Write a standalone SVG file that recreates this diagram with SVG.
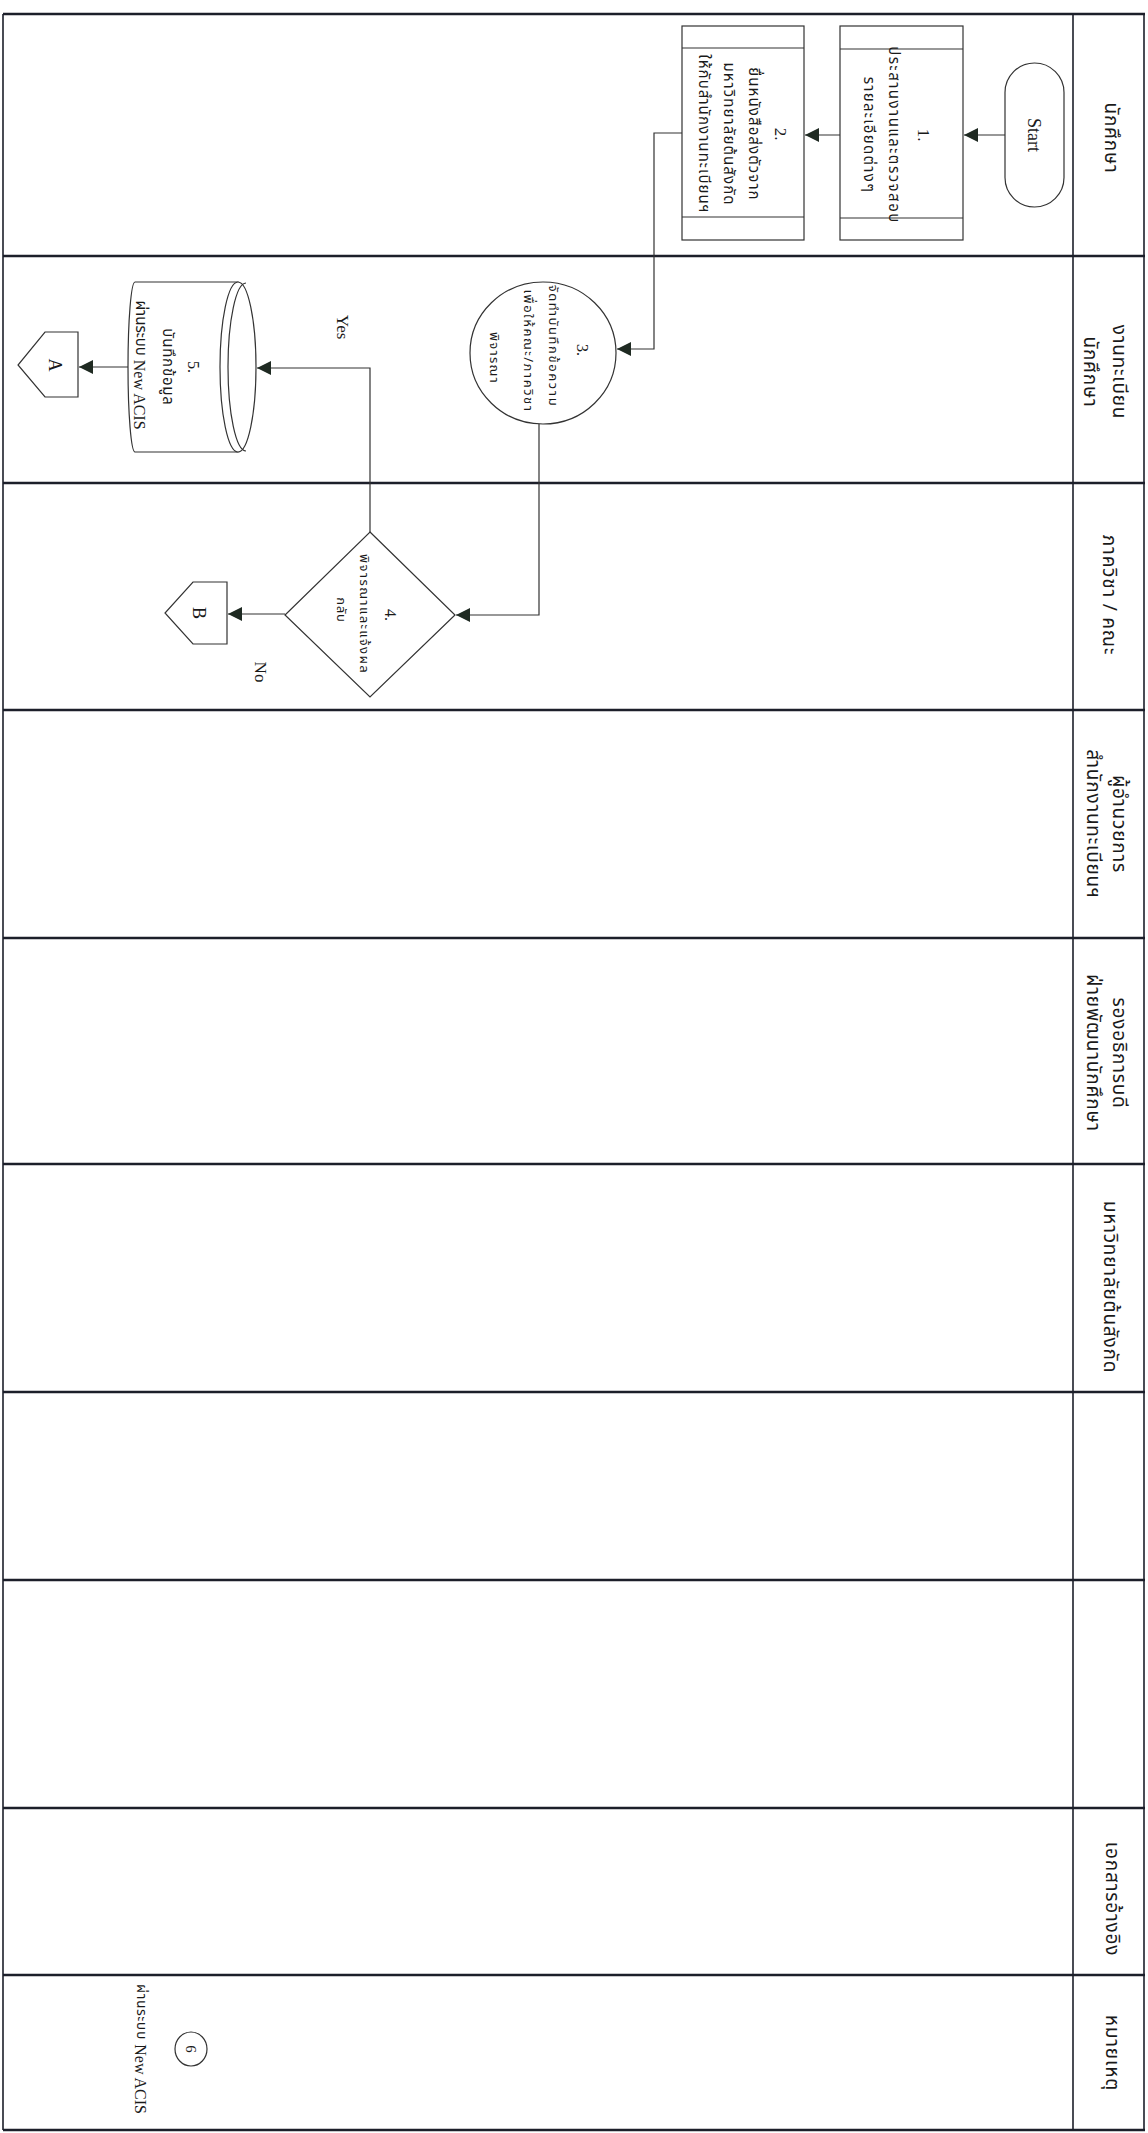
<svg xmlns="http://www.w3.org/2000/svg" width="1148" height="2133" viewBox="0 0 1148 2133">
<style>
.lane{stroke:#1c1f2a;stroke-width:2.5;fill:none}
.vline{stroke:#1c1f2a;stroke-width:1.6;fill:none}
.shape{fill:#fff;stroke:#333;stroke-width:1.2}
.conn{fill:none;stroke:#333;stroke-width:1.2}
.th{font-family:"Noto Sans Thai","Noto Sans","DejaVu Sans",sans-serif;fill:#1a1a1a}
.hd{font-size:19px;letter-spacing:0.8px}
.nt{font-size:15px}
.ns{font-size:13px}
.lat{font-family:"Liberation Serif","Times New Roman",serif;fill:#1a1a1a;letter-spacing:0}
</style>
<defs>
<marker id="ah" markerUnits="userSpaceOnUse" markerWidth="15" markerHeight="15" refX="14" refY="7" orient="auto">
<path d="M0,0 L14,7 L0,14 z" fill="#1f2a22"/>
</marker>
</defs>
<rect width="1148" height="2133" fill="#fff"/>
<g id="grid">
<line class="lane" x1="3" y1="14" x2="1145" y2="14"/>
<line class="lane" x1="3" y1="256" x2="1145" y2="256"/>
<line class="lane" x1="3" y1="483" x2="1145" y2="483"/>
<line class="lane" x1="3" y1="710" x2="1145" y2="710"/>
<line class="lane" x1="3" y1="938" x2="1145" y2="938"/>
<line class="lane" x1="3" y1="1164" x2="1145" y2="1164"/>
<line class="lane" x1="3" y1="1392" x2="1145" y2="1392"/>
<line class="lane" x1="3" y1="1580" x2="1145" y2="1580"/>
<line class="lane" x1="3" y1="1808" x2="1145" y2="1808"/>
<line class="lane" x1="3" y1="1975" x2="1145" y2="1975"/>
<line class="lane" x1="3" y1="2130" x2="1145" y2="2130"/>
<line class="vline" x1="3" y1="14" x2="3" y2="2130"/>
<line class="vline" x1="1073" y1="14" x2="1073" y2="2130"/>
<line class="vline" x1="1144" y1="14" x2="1144" y2="2130"/>
</g>
<g id="headers" class="th hd" text-anchor="middle" dominant-baseline="central">
<g id="h1"><text x="1110" y="138" transform="rotate(90 1110 138)">นักศึกษา</text></g>
<g id="h2"><text x="1118" y="372" transform="rotate(90 1118 372)">งานทะเบียน</text><text x="1089" y="372" transform="rotate(90 1089 372)">นักศึกษา</text></g>
<g id="h3"><text x="1108" y="595" transform="rotate(90 1108 595)">ภาควิชา / คณะ</text></g>
<g id="h4"><text x="1118" y="824" transform="rotate(90 1118 824)">ผู้อำนวยการ</text><text x="1092" y="824" transform="rotate(90 1092 824)">สำนักงานทะเบียนฯ</text></g>
<g id="h5"><text x="1118" y="1053" transform="rotate(90 1118 1053)">รองอธิการบดี</text><text x="1092" y="1053" transform="rotate(90 1092 1053)">ฝ่ายพัฒนานักศึกษา</text></g>
<g id="h6"><text x="1109" y="1287" transform="rotate(90 1109 1287)">มหาวิทยาลัยต้นสังกัด</text></g>
<g id="h9"><text x="1111" y="1899" transform="rotate(90 1111 1899)">เอกสารอ้างอิง</text></g>
<g id="h10"><text x="1111" y="2053" transform="rotate(90 1111 2053)">หมายเหตุ</text></g>
</g>
<g id="connectors">
<path class="conn" d="M1005,135 L964,135" marker-end="url(#ah)"/>
<path class="conn" d="M840,135 L805,135" marker-end="url(#ah)"/>
<path class="conn" d="M682,133 L654,133 L654,349 L617,349" marker-end="url(#ah)"/>
<path class="conn" d="M539,424 L539,615 L456,615" marker-end="url(#ah)"/>
<path class="conn" d="M370,532 L370,368 L257,368" marker-end="url(#ah)"/>
<path class="conn" d="M285,614 L228,614" marker-end="url(#ah)"/>
<path class="conn" d="M128,367 L79,367" marker-end="url(#ah)"/>
<text class="lat" font-size="17" x="342" y="327" text-anchor="middle" dominant-baseline="central" transform="rotate(90 342 327)">Yes</text>
<text class="lat" font-size="17" x="260" y="672" text-anchor="middle" dominant-baseline="central" transform="rotate(90 260 672)">No</text>
</g>
<g id="start">
<rect class="shape" x="1005" y="63" width="59" height="144" rx="29.5"/>
<text class="lat" font-size="18" x="1034" y="135" text-anchor="middle" dominant-baseline="central" transform="rotate(90 1034 135)">Start</text>
</g>
<g id="n1">
<rect class="shape" x="840" y="26" width="123" height="214"/>
<line class="conn" x1="840" y1="49" x2="963" y2="49"/>
<line class="conn" x1="840" y1="218" x2="963" y2="218"/>
<g text-anchor="middle" dominant-baseline="central">
<text class="lat" font-size="17" x="923" y="135" transform="rotate(90 923 135)">1.</text>
<text class="th nt" letter-spacing="1.5" x="893" y="135" transform="rotate(90 893 135)">ประสานงานและตรวจสอบ</text>
<text class="th nt" letter-spacing="1.3" x="868" y="135" transform="rotate(90 868 135)">รายละเอียดต่างๆ</text>
</g>
</g>
<g id="n2">
<rect class="shape" x="682" y="26" width="122" height="214"/>
<line class="conn" x1="682" y1="48" x2="804" y2="48"/>
<line class="conn" x1="682" y1="217" x2="804" y2="217"/>
<g text-anchor="middle" dominant-baseline="central">
<text class="lat" font-size="17" x="780" y="134" transform="rotate(90 780 134)">2.</text>
<text class="th nt" letter-spacing="1.1" x="753" y="134" transform="rotate(90 753 134)">ยื่นหนังสือส่งตัวจาก</text>
<text class="th nt" letter-spacing="1.1" x="728" y="134" transform="rotate(90 728 134)">มหาวิทยาลัยต้นสังกัด</text>
<text class="th nt" letter-spacing="1.1" x="703" y="134" transform="rotate(90 703 134)">ให้กับสำนักงานทะเบียนฯ</text>
</g>
</g>
<g id="n3">
<ellipse class="shape" cx="543" cy="353" rx="73" ry="71"/>
<g text-anchor="middle" dominant-baseline="central">
<text class="lat" font-size="16" x="582" y="350" transform="rotate(90 582 350)">3.</text>
<text class="th ns" letter-spacing="1.6" x="553" y="346" transform="rotate(90 553 346)">จัดทำบันทึกข้อความ</text>
<text class="th ns" letter-spacing="1.5" x="528" y="351" transform="rotate(90 528 351)">เพื่อให้คณะ/ภาควิชา</text>
<text class="th ns" letter-spacing="1.2" x="494" y="358" transform="rotate(90 494 358)">พิจารณา</text>
</g>
</g>
<g id="n4">
<polygon class="shape" points="370,532 455,615 370,697 285,615"/>
<g text-anchor="middle" dominant-baseline="central">
<text class="lat" font-size="16" x="390" y="615" transform="rotate(90 390 615)">4.</text>
<text class="th ns" letter-spacing="1.4" x="364" y="614" transform="rotate(90 364 614)">พิจารณาและแจ้งผล</text>
<text class="th ns" letter-spacing="0.8" x="341" y="610" transform="rotate(90 341 610)">กลับ</text>
</g>
</g>
<g id="n5">
<path class="shape" d="M238,282 L135,282 A7,85 0 0 0 135,452 L238,452 Z"/>
<ellipse class="shape" cx="238" cy="367" rx="18" ry="85"/>
<path class="conn" d="M246,283 A18,84 0 0 0 246,451"/>
<g text-anchor="middle" dominant-baseline="central">
<text class="lat" font-size="16" x="193" y="367" transform="rotate(90 193 367)">5.</text>
<text class="th nt" letter-spacing="0.8" x="167" y="367" transform="rotate(90 167 367)">บันทึกข้อมูล</text>
<text class="th nt" x="140" y="365" transform="rotate(90 140 365)">ผ่านระบบ <tspan class="lat" font-size="16">New ACIS</tspan></text>
</g>
</g>
<g id="connA">
<polygon class="shape" points="78,332 78,397 45,397 18,365 45,332"/>
<text class="lat" font-size="18" x="55" y="365" text-anchor="middle" dominant-baseline="central" transform="rotate(90 55 365)">A</text>
</g>
<g id="connB">
<polygon class="shape" points="227,582 227,644 193,644 165,613 193,582"/>
<text class="lat" font-size="18" x="199" y="613" text-anchor="middle" dominant-baseline="central" transform="rotate(90 199 613)">B</text>
</g>
<g id="note6">
<ellipse class="shape" cx="191" cy="2049" rx="16" ry="17"/>
<text class="lat" font-size="15" x="191" y="2049" text-anchor="middle" dominant-baseline="central" transform="rotate(90 191 2049)">6</text>
<text class="th" font-size="14" letter-spacing="0.6" x="141" y="2049" text-anchor="middle" dominant-baseline="central" transform="rotate(90 141 2049)">ผ่านระบบ <tspan class="lat" font-size="16">New ACIS</tspan></text>
</g>
</svg>
